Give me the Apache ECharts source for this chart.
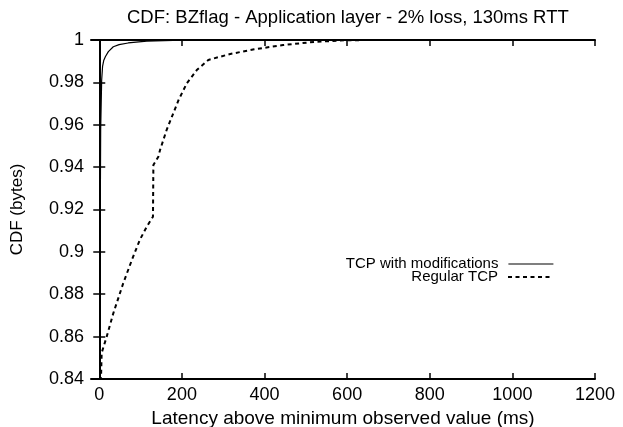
<!DOCTYPE html>
<html>
<head>
<meta charset="utf-8">
<script src="https://cdn.jsdelivr.net/npm/echarts@6/dist/echarts.min.js"></script>
<style>
  html, body { margin: 0; padding: 0; background: #fff; }
  #chart { width: 623px; height: 427px; }
</style>
</head>
<body>
<div id="chart"></div>
<script>
// Latency above minimum (ms) / cumulative fraction of bytes delivered
const modifiedTcp = [
  [0, 0.70], [2, 0.90], [3.4, 0.9575], [5.8, 0.981], [8, 0.9875], [11, 0.9905],
  [15, 0.9922], [22, 0.9945], [34, 0.9968], [48, 0.9978], [70, 0.9986],
  [115, 0.9995], [200, 0.9999], [346, 1.0]
];
const regularTcp = [
  [-1, 0.80], [5.8, 0.8523], [18, 0.860], [34, 0.871], [58, 0.8852], [79, 0.8962],
  [98, 0.9056], [115, 0.9119], [130, 0.9166], [131, 0.941], [143, 0.9449],
  [147, 0.948], [163, 0.9575], [192, 0.9717], [212, 0.9796], [236, 0.9858],
  [264, 0.9906], [317, 0.9934], [375, 0.9956], [445, 0.9976], [520, 0.9991],
  [600, 0.9999], [680, 1.0], [1200, 1.0]
];
const xTicks = [0, 200, 400, 600, 800, 1000, 1200];
const seriesNames = ['TCP with modifications', 'Regular TCP'];

const font = 'Liberation Sans, Arial, Helvetica, sans-serif';
const chart = echarts.init(document.getElementById('chart'), null, { renderer: 'canvas' });

const axisLine = { show: true, lineStyle: { color: '#000', width: 2 } };
const tickIn = { show: true, inside: true, length: 6, lineStyle: { color: '#000', width: 1.5 } };

// one legend block per key row, text on the left of the line sample
function legendFor(name, top, lineWidth) {
  return {
    orient: 'vertical', right: 69, top: top, align: 'right', padding: 0,
    itemWidth: 45, itemHeight: 13, itemGap: 0,
    itemStyle: { opacity: 0 },
    lineStyle: { width: lineWidth },
    textStyle: { fontFamily: font, fontSize: 15, lineHeight: 15, color: '#000', padding: [0, 5, 0, 0] },
    data: [name]
  };
}

chart.setOption({
  animation: false,
  backgroundColor: '#fff',
  title: {
    text: 'CDF: BZflag - Application layer - 2% loss, 130ms RTT',
    left: 122, top: 3,
    textStyle: { fontFamily: font, fontSize: 18.5, fontWeight: 'normal', color: '#000' }
  },
  grid: { left: 91, right: 28, top: 40, bottom: 48, outerBoundsMode: 'none' },
  legend: [legendFor(seriesNames[0], 256.5, 1.2), legendFor(seriesNames[1], 269.5, 2)],
  xAxis: [
    {
      type: 'value', min: -20, max: 1200, position: 'bottom',
      name: 'Latency above minimum observed value (ms)', nameLocation: 'middle', nameGap: 29,
      nameTextStyle: { fontFamily: font, fontSize: 19, color: '#000' },
      axisLine, axisTick: Object.assign({}, tickIn, { customValues: xTicks }),
      axisLabel: {
        customValues: xTicks, fontFamily: font, fontSize: 18, color: '#000', margin: 7,
        formatter: v => String(v)
      },
      splitLine: { show: false }
    },
    {
      type: 'value', min: -20, max: 1200, position: 'top',
      axisLine, axisTick: Object.assign({}, tickIn, { customValues: xTicks }),
      axisLabel: { show: false }, splitLine: { show: false }
    }
  ],
  yAxis: [
    {
      type: 'value', min: 0.84, max: 1, interval: 0.02, position: 'left',
      name: 'CDF (bytes)', nameLocation: 'middle', nameGap: 65,
      nameTextStyle: { fontFamily: font, fontSize: 17, color: '#000' },
      axisLine, axisTick: tickIn,
      axisLabel: { fontFamily: font, fontSize: 18, color: '#000', margin: 7 },
      splitLine: { show: false }
    },
    {
      type: 'value', min: 0.84, max: 1, interval: 0.02, position: 'right',
      axisLine, axisTick: tickIn, axisLabel: { show: false }, splitLine: { show: false }
    }
  ],
  series: [
    {
      name: seriesNames[0], type: 'line', data: modifiedTcp, symbol: 'none',
      clip: true, z: 3,
      lineStyle: { color: '#000', width: 1.2 }, itemStyle: { color: '#000' }
    },
    {
      name: seriesNames[1], type: 'line', data: regularTcp, symbol: 'none',
      clip: true, z: 2,
      lineStyle: { color: '#000', width: 2, type: [4, 3.5] }, itemStyle: { color: '#000' }
    }
  ]
});
</script>
</body>
</html>
